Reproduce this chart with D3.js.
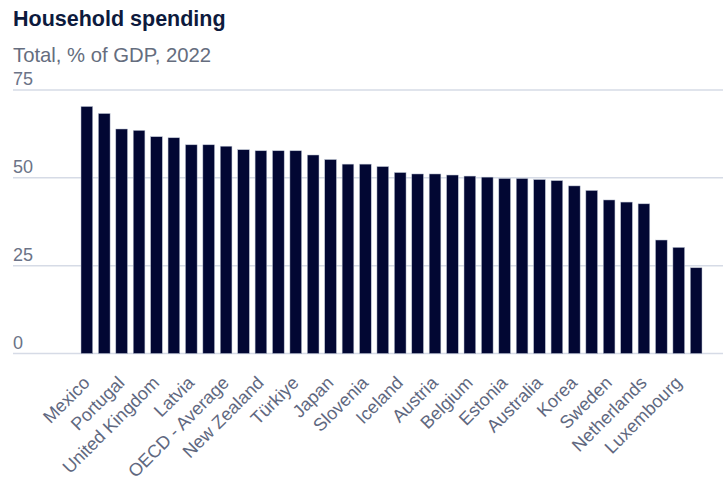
<!DOCTYPE html>
<html>
<head>
<meta charset="utf-8">
<script src="https://cdn.jsdelivr.net/npm/d3@7"></script>
<style>
  body { margin: 0; background: #fff; }
  svg { display: block; font-family: "Liberation Sans", Arial, sans-serif; }
</style>
</head>
<body>
<svg id="chart" width="723" height="481"></svg>
<script>
// Household spending, total % of GDP, 2022 (sorted descending)
const countries = [
  "Mexico", "Greece", "Portugal", "Lithuania", "United Kingdom", "United States",
  "Latvia", "Italy", "OECD - Average", "Spain", "New Zealand", "Chile",
  "Türkiye", "Israel", "Japan", "Poland", "Slovenia", "Costa Rica",
  "Iceland", "France", "Austria", "Finland", "Belgium", "Germany",
  "Estonia", "Canada", "Australia", "Slovak Republic", "Korea", "Czechia",
  "Sweden", "Denmark", "Netherlands", "Norway", "Luxembourg", "Ireland"
];
const values = [
  70.3, 68.3, 63.9, 63.5, 61.7, 61.4,
  59.4, 59.4, 59.0, 58.0, 57.7, 57.7,
  57.7, 56.5, 55.2, 53.9, 53.9, 53.2,
  51.5, 51.1, 51.1, 50.8, 50.5, 50.2,
  49.8, 49.8, 49.5, 49.2, 47.7, 46.4,
  43.7, 43.1, 42.6, 32.3, 30.2, 24.4
];
const yTicks = [0, 25, 50, 75];

const data = countries.map((c, i) => ({ country: c, value: values[i] }));

const svg = d3.select("#chart");
const W = 723;

const x = d3.scaleBand()
  .domain(countries)
  .range([72.3, 710.7])
  .paddingInner(0.33)
  .paddingOuter(0.5);
const y = d3.scaleLinear().domain([0, 75]).range([353.5, 90]);

// Title
svg.append("text")
  .attr("x", 13).attr("y", 26)
  .attr("fill", "#0d1a3d").attr("font-size", 21.5).attr("font-weight", "bold")
  .text("Household spending");
svg.append("text")
  .attr("x", 13).attr("y", 61.5)
  .attr("fill", "#656d7e").attr("font-size", 20.3)
  .text("Total, % of GDP, 2022");

// Grid + y labels (label sits above its line)
const grid = svg.append("g");
yTicks.forEach(t => {
  grid.append("line")
    .attr("x1", 13).attr("x2", W)
    .attr("y1", y(t)).attr("y2", y(t))
    .attr("stroke", "#d6dbe6").attr("stroke-width", 1.5);
  grid.append("text")
    .attr("x", 13).attr("y", y(t) - 5)
    .attr("fill", "#6b7387").attr("font-size", 18)
    .text(t);
});

// Bars
svg.append("g").selectAll("rect")
  .data(data).enter().append("rect")
  .attr("x", d => x(d.country))
  .attr("y", d => y(d.value))
  .attr("width", x.bandwidth())
  .attr("height", d => y(0) - y(d.value))
  .attr("fill", "#020733")
  .attr("stroke", "#b8bfd0").attr("stroke-width", 0.5);

// X labels, every other bar
svg.append("g").selectAll("text")
  .data(data.filter((d, i) => i % 2 === 0)).enter().append("text")
  .attr("transform", d => `translate(${x(d.country) + x.bandwidth() / 2 + 4},384) rotate(-45)`)
  .attr("text-anchor", "end")
  .attr("fill", "#5f6880").attr("font-size", 18)
  .text(d => d.country);
</script>
</body>
</html>
